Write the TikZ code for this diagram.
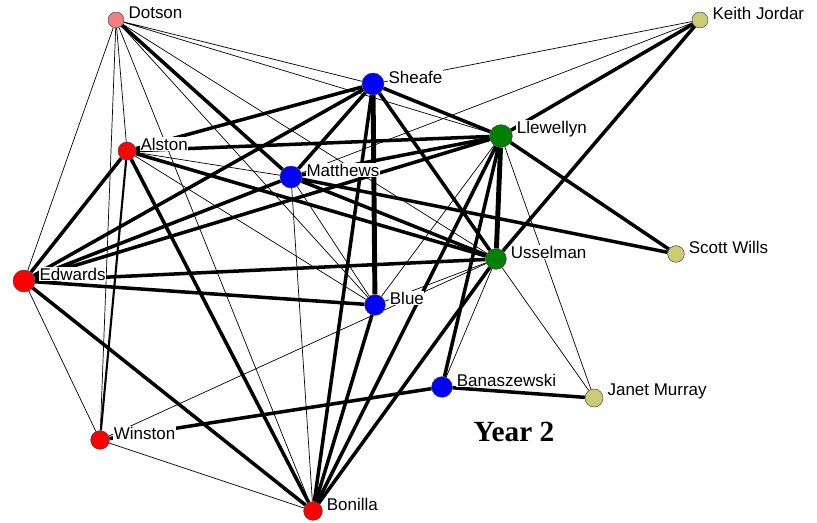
\documentclass[tikz,border=0pt]{standalone}
\usepackage{fontspec}
\newfontfamily\lblfamily{Liberation Sans}
\newfontfamily\yearfamily{Liberation Serif}
\usepackage{tikz}
\usetikzlibrary{backgrounds}
\definecolor{actred}{HTML}{FF0000}
\definecolor{actblue}{HTML}{0000FF}
\definecolor{actgreen}{HTML}{008000}
\definecolor{actpink}{HTML}{F08080}
\definecolor{actkhaki}{HTML}{CCCC77}

\begin{document}
\begin{tikzpicture}[x=0.03cm, y=-0.03cm,
    actor/.style={circle, draw=black!75, line width=0.4pt, inner sep=0pt,
                  minimum size=0.6cm},
    lbl/.style={fill=white, inner sep=0.5pt, yshift=6pt,
                font=\lblfamily\fontsize{14.5}{17}\selectfont},
    weak/.style={line width=0.6pt},
    strong/.style={line width=3pt},
    heavy/.style={line width=4.2pt},
    label distance=3pt
  ]
    \useasboundingbox (0,0) rectangle (817,522);
    % Actors, top to bottom
    \node[actor, fill=actpink, minimum size=0.48cm, label={[lbl]0:Dotson}] (dot) at (116,20) {};
    \node[actor, fill=actkhaki, minimum size=0.48cm, label={[lbl]0:Keith Jordar}] (kj) at (700,20) {};
    \node[actor, fill=actblue, minimum size=0.66cm, label={[lbl]0:Sheafe}] (she) at (373,84) {};
    \node[actor, fill=actgreen, minimum size=0.68cm, label={[lbl]0:Llewellyn}] (lle) at (501,136) {};
    \node[actor, fill=actred, minimum size=0.54cm, label={[lbl]0:Alston}] (als) at (127,151) {};
    \node[actor, fill=actblue, minimum size=0.66cm, label={[lbl]0:Matthews}] (mat) at (291,177) {};
    \node[actor, fill=actkhaki, minimum size=0.5cm, label={[lbl]0:Scott Wills}] (sw) at (676,254) {};
    \node[actor, fill=actgreen, minimum size=0.62cm, label={[lbl]0:Usselman}] (uss) at (496,259) {};
    \node[actor, fill=actred, minimum size=0.66cm, label={[lbl]0:Edwards}] (edw) at (24,281) {};
    \node[actor, fill=actblue, minimum size=0.62cm, label={[lbl]0:Blue}] (blu) at (375,305) {};
    \node[actor, fill=actblue, minimum size=0.62cm, label={[lbl]0:Banaszewski}] (ban) at (442,387) {};
    \node[actor, fill=actkhaki, minimum size=0.54cm, label={[lbl]0:Janet Murray}] (jm) at (594,398) {};
    \node[actor, fill=actred, minimum size=0.56cm, label={[lbl]0:Winston}] (win) at (100,440) {};
    \node[actor, fill=actred, minimum size=0.56cm, label={[lbl]0:Bonilla}] (bon) at (313,511) {};
    % Caption
    \node[font=\yearfamily\bfseries\fontsize{25}{30}\selectfont] (year) at (514,432) {Year 2};
    \begin{scope}[on background layer]
      % Weak ties
      \draw[weak] (dot) -- (she) (dot) -- (lle) (dot) -- (uss) (dot) -- (blu)
        (dot) -- (als) (dot) -- (edw) (dot) -- (win) (dot) -- (bon);
      \draw[weak] (als) -- (mat) (als) -- (blu) (kj) -- (she) (kj) -- (mat);
      \draw[weak] (lle) -- (jm) (uss) -- (jm) (uss) -- (ban) (lle) -- (blu);
      \draw[weak] (edw) -- (win) (win) -- (bon) (win) -- (uss);
      \draw[weak] (mat) -- (bon) (mat) -- (blu) (blu) -- (uss);
      % Strong ties
      \draw[strong] (dot) -- (mat) (als) -- (edw) (als) -- (bon) (als) -- (uss)
        (als) -- (lle) (als) -- (she);
      \draw[line width=1.8pt] (als) -- (win);
      \draw[strong] (edw) -- (she) (edw) -- (mat) (edw) -- (lle) (edw) -- (uss)
        (edw) -- (blu) (edw) -- (bon);
      \draw[strong] (she) -- (lle) (she) -- (mat) (she) -- (uss) (she) -- (bon);
      \draw[strong] (lle) -- (kj) (lle) -- (sw) (lle) -- (ban) (lle) -- (bon)
        (lle) -- (mat);
      \draw[strong] (uss) -- (kj) (uss) -- (bon) (uss) -- (mat) (mat) -- (sw);
      \draw[strong] (ban) -- (jm) (ban) -- (win) (blu) -- (bon);
      % Heaviest ties
      \draw[heavy] (lle) -- (uss) (she) -- (blu);
    \end{scope}
\end{tikzpicture}
\end{document}
